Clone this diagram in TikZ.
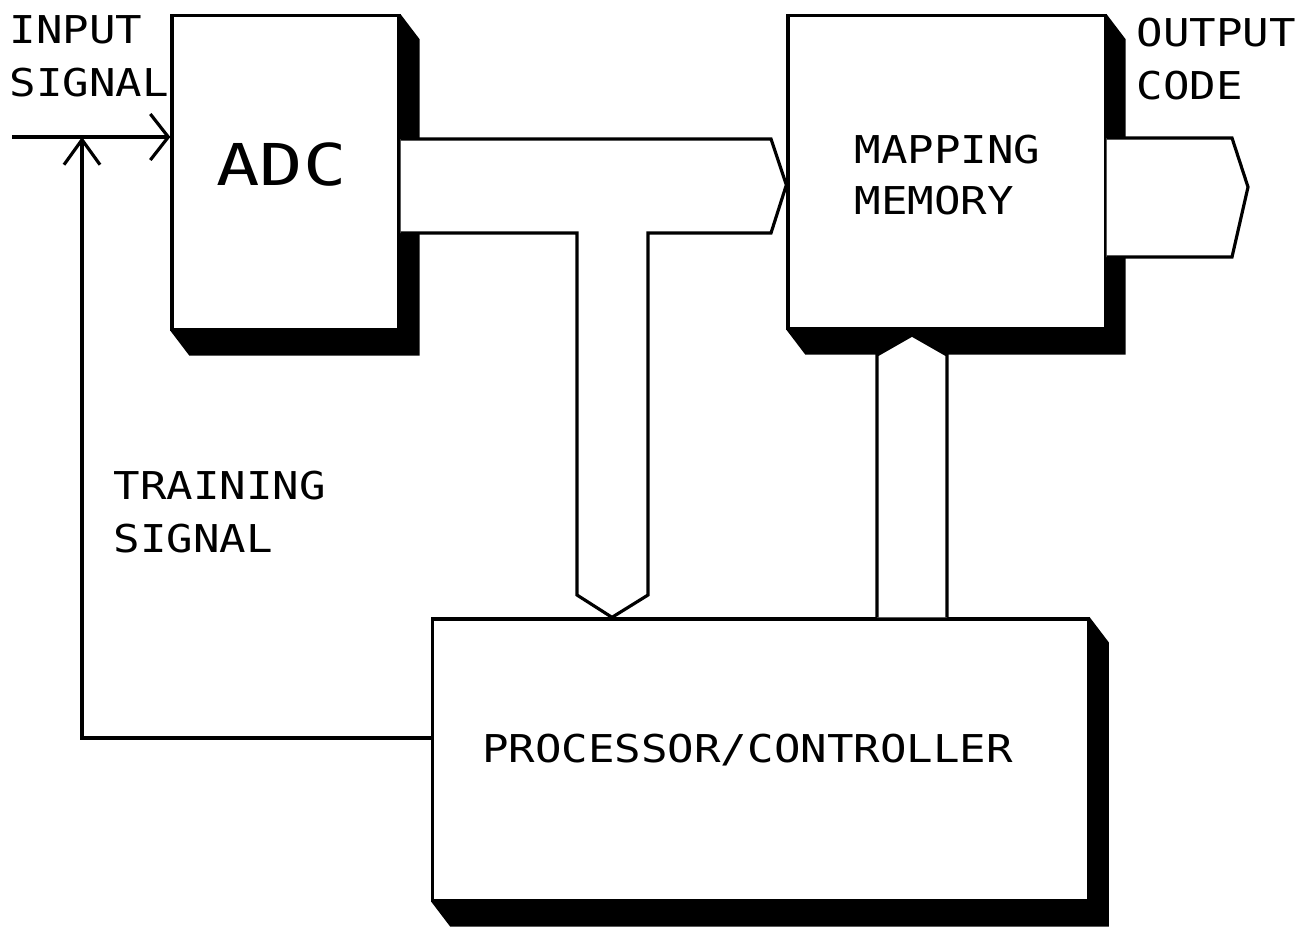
\documentclass[tikz,border=0pt]{standalone}
\usepackage{fontspec}
\newfontfamily\plotfont[FakeStretch=1.15]{DejaVu Sans Mono}
\newfontfamily\plotfontbig[FakeStretch=1.25]{DejaVu Sans Mono}
\usetikzlibrary{arrows.meta,calc,backgrounds}
\tikzset{
  block/.style = {draw, fill=white, line width=0.9pt, inner sep=0pt},
  bus/.style   = {draw, fill=white, line width=0.9pt, line join=miter},
  sig/.style   = {line width=0.9pt, -{Straight Barb[length=1.8mm,width=4.6mm]}},
  lbl/.style   = {inner sep=0pt, align=left,
                  font=\plotfont\fontsize{10.9}{15.1}\selectfont},
}
% black slanted shadow behind a box
\newcommand\boxshadow[1]{%
  \fill (#1.north east) -- ++(19,25) -- ($(#1.south east)+(19,25)$)
    -- ($(#1.south west)+(19,25)$) -- (#1.south west) -- cycle;}

\begin{document}
\begin{tikzpicture}[x=0.01cm,y=-0.01cm]
\useasboundingbox (0,0) rectangle (1310,930);

% boxes
\node[block, minimum width=2.27cm, minimum height=3.13cm] (adc) at (285.5,172.5) {};
\node[block, minimum width=3.17cm, minimum height=3.12cm] (map) at (946.5,172) {};
\node[block, minimum width=6.55cm, minimum height=2.81cm] (proc) at (760.5,759.5) {};

\begin{scope}[on background layer]
  \fill[white] (0,0) rectangle (1310,930);
  \boxshadow{adc}
  \boxshadow{map}
  \boxshadow{proc}
\end{scope}

% box texts
\node[lbl, font=\plotfontbig\fontsize{16.4}{20}\selectfont] (adctxt) at ([shift={(-4,-8)}]adc.center) {ADC};
\node[lbl, font=\plotfont\fontsize{10.9}{14.3}\selectfont] (maptxt) at ([shift={(1,3)}]map.center) {MAPPING\\MEMORY};
\node[lbl] (proctxt) at ([shift={(-13,-9)}]proc.center) {PROCESSOR/CONTROLLER};

% buses
\coordinate (tipmap) at (map.west |- 0,185);
\coordinate (tipproc) at (proc.north -| 612,0);
\coordinate (outtip) at (1248,187);
\draw[bus] (adc.east |- 0,139) -- (771,139) -- (tipmap) -- (771,233) -- (648,233)
  -- (648,595) -- (tipproc) -- (577,595) -- (577,233) -- (adc.east |- 0,233);
\draw[bus] (map.east |- 0,138) -- (1232,138) -- (outtip) -- (1232,257) -- (map.east |- 0,257);
\draw[bus] (proc.north -| 877,0) -- (877,355) -- (912,335) -- (947,355) -- (proc.north -| 947,0);

% signals
\coordinate (in) at (12,137);
\coordinate (trainend) at (82,137);
\draw[sig] (in) -- (adc.west |- in);
\draw[sig, -{Straight Barb[length=2.5mm,width=3.6mm]}] (proc.west |- 0,738) -| (trainend);

% labels
\node[lbl, anchor=north west] (insig) at (9,15) {INPUT\\SIGNAL};
\node[lbl, anchor=north west] (outcode) at (1136,17) {OUTPUT\\CODE};
\node[lbl, anchor=north west] (train) at (113,470) {TRAINING\\SIGNAL};
\end{tikzpicture}
\end{document}
